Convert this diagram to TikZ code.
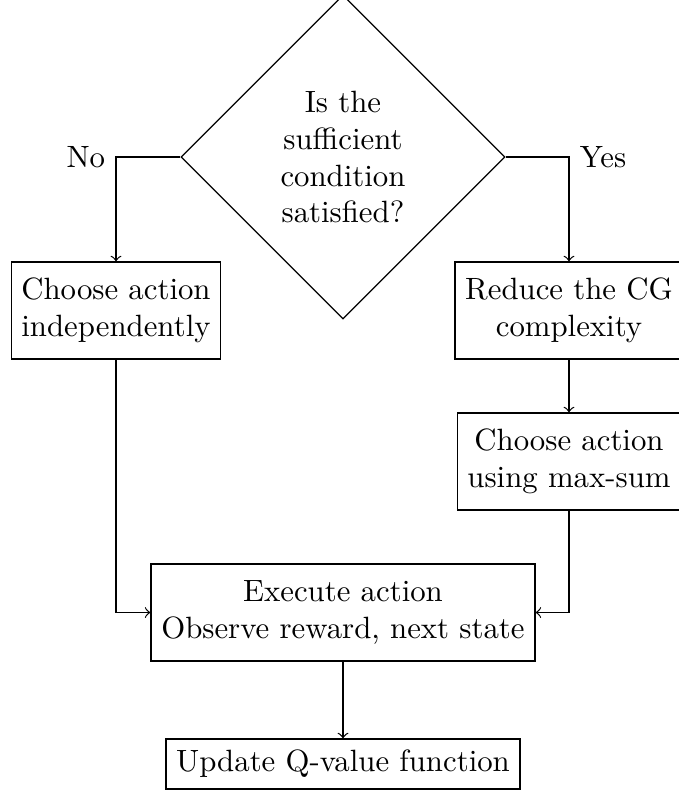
\documentclass[tikz,border=0pt]{standalone}
\usetikzlibrary{shapes.geometric}

% one drawing unit = one pixel of the 679 x 792 canvas
\tikzset{
  x=0.3247pt, y=-0.3247pt,
  every path/.style={line width=0.4pt},
  decision/.style={draw, shape=diamond, aspect=1, inner sep=0pt,
                   minimum size=105.2pt, align=center},
  process/.style={draw, rectangle, align=center, minimum height=31.5pt},
  single/.style={draw, rectangle, align=center, minimum height=16.2pt},
  flow/.style={->},
}

\begin{document}
\begin{tikzpicture}
  \useasboundingbox (0,0) rectangle (679,792);

  \node[decision] (cond) at (343,157)
    {Is the\\sufficient\\condition\\satisfied?};

  \node[process] (indep)  at (116,310.5) {Choose action\\independently};
  \node[process] (reduce) at (569,310.5) {Reduce the CG\\complexity};
  \node[process] (maxsum) at (569,461.5) {Choose action\\using max-sum};
  \node[process] (exec)   at (343,612.5) {Execute action\\Observe reward, next state};
  \node[single]  (update) at (343,764)   {Update Q-value function};

  \draw[flow] (cond.west) -| node[pos=0.5, left] {No} (indep.north);
  \draw[flow] (cond.east) -| node[pos=0.5, right] {Yes} (reduce.north);
  \draw[flow] (reduce.south) -- (maxsum.north);
  \draw[flow] (indep.south) |- (exec.west);
  \draw[flow] (maxsum.south) |- (exec.east);
  \draw[flow] (exec.south) -- (update.north);
\end{tikzpicture}
\end{document}
